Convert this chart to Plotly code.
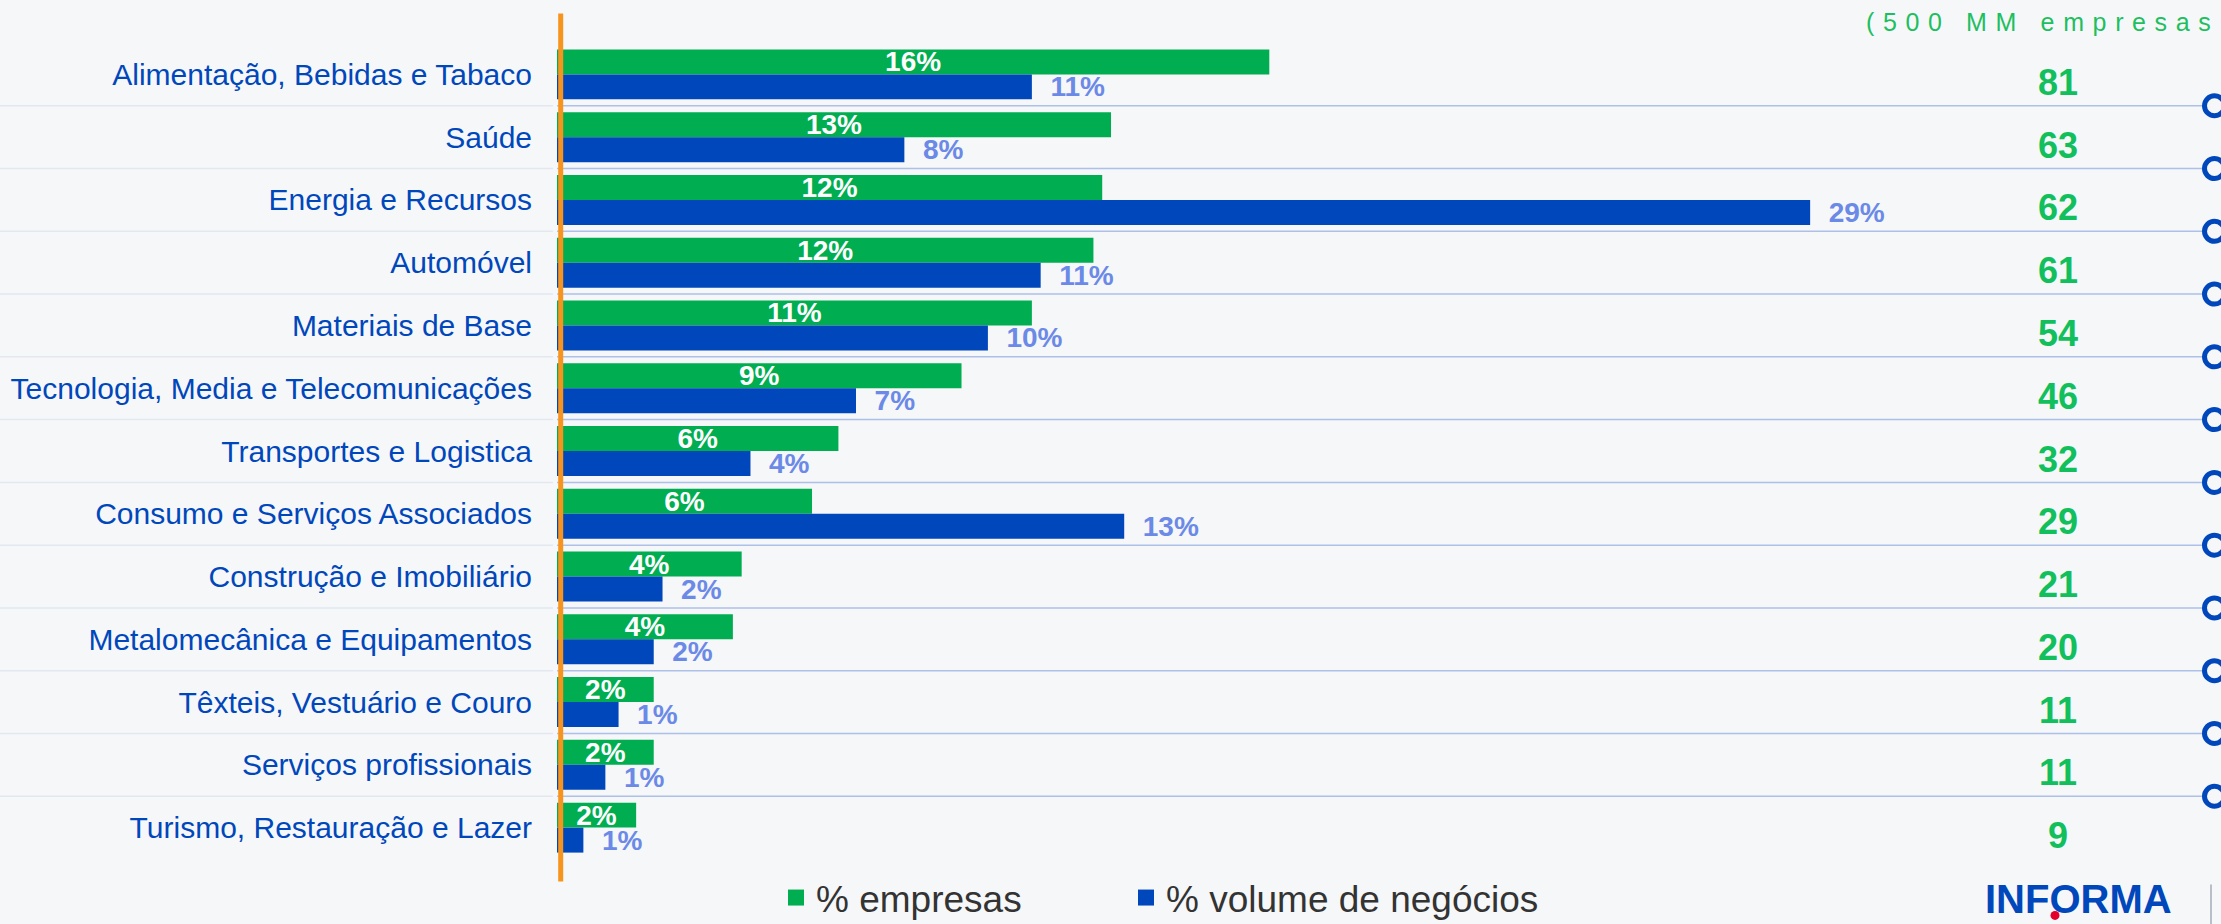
import plotly.graph_objects as go

# ---------------- data ----------------
categories = [
    "Alimentação, Bebidas e Tabaco",
    "Saúde",
    "Energia e Recursos",
    "Automóvel",
    "Materiais de Base",
    "Tecnologia, Media e Telecomunicações",
    "Transportes e Logistica",
    "Consumo e Serviços Associados",
    "Construção e Imobiliário",
    "Metalomecânica e Equipamentos",
    "Têxteis, Vestuário e Couro",
    "Serviços profissionais",
    "Turismo, Restauração e Lazer",
]
pct_empresas = [16.2, 12.6, 12.4, 12.2, 10.8, 9.2, 6.4, 5.8, 4.2, 4.0, 2.2, 2.2, 1.8]
pct_volume = [10.8, 7.9, 28.5, 11.0, 9.8, 6.8, 4.4, 12.9, 2.4, 2.2, 1.4, 1.1, 0.6]
n_empresas = [81, 63, 62, 61, 54, 46, 32, 29, 21, 20, 11, 11, 9]
series_names = ["% empresas", "% volume de negócios"]
header_text = "(500 MM empresas"
logo_text = "INFORMA"

# ---------------- style / geometry ----------------
W, H = 2221, 924
L, R, T, B = 557, 0, 42.6, 65.4
PW, PH = W - L - R, H - T - B
PX_PER_UNIT = 43.97
BG = "#f6f7f9"
GREEN = "#00ad50"
BLUE = "#0047bb"
LBL_BLUE = "#6b89e6"
NUM_GREEN = "#12bf5d"
FONT = "Liberation Sans, Arial, sans-serif"


def px2x(px):
    return (px - L) / PW


def py2y(py):
    return (H - B - py) / PH


fig = go.Figure()

fig.add_trace(go.Bar(
    y=categories, x=pct_empresas, orientation="h", name=series_names[0],
    marker=dict(color=GREEN, line=dict(width=0)),
    texttemplate="%{x:.0f}%", textposition="inside", insidetextanchor="middle",
    textangle=0, constraintext="none",
    insidetextfont=dict(color="white", size=28, family=FONT, weight="bold"),
    showlegend=False, hoverinfo="skip",
))
fig.add_trace(go.Bar(
    y=categories, x=pct_volume, orientation="h", name=series_names[1],
    marker=dict(color=BLUE, line=dict(width=0)),
    texttemplate="\u00a0\u00a0%{x:.0f}%", textposition="outside",
    textangle=0, constraintext="none", cliponaxis=False,
    outsidetextfont=dict(color=LBL_BLUE, size=28, family=FONT, weight="bold"),
    showlegend=False, hoverinfo="skip",
))

# legend entries
for name, col, lw in zip(series_names, [GREEN, BLUE], [305, 420]):
    fig.add_trace(go.Scatter(
        x=[None], y=[None], mode="markers", name=name, legendwidth=lw,
        marker=dict(symbol="square", size=18, color=col),
        showlegend=True, hoverinfo="skip",
    ))

shapes = []
n = len(categories)
for i in range(n - 1):
    yb = i + 0.5
    shapes.append(dict(type="line", xref="paper", yref="y", x0=px2x(0), x1=px2x(553),
                       y0=yb, y1=yb, line=dict(color="#e2e7f0", width=1.5), layer="below"))
    shapes.append(dict(type="line", xref="paper", yref="y", x0=px2x(557), x1=px2x(2206),
                       y0=yb, y1=yb, line=dict(color="#adc0e8", width=1.5), layer="below"))
    shapes.append(dict(type="circle", xref="paper", yref="y", xsizemode="pixel", ysizemode="pixel",
                       xanchor=px2x(2214.5), yanchor=yb, x0=-10, x1=10, y0=-10, y1=10,
                       line=dict(color=BLUE, width=5), fillcolor=BG, layer="above"))

# orange axis line
shapes.append(dict(type="line", xref="paper", yref="paper", x0=px2x(560.7), x1=px2x(560.7),
                   y0=py2y(13), y1=py2y(881), line=dict(color="#f7941d", width=5), layer="above"))
# logo decorations
shapes.append(dict(type="line", xref="paper", yref="paper", x0=px2x(2211), x1=px2x(2211),
                   y0=py2y(884), y1=py2y(924), line=dict(color="#b9bec8", width=2)))

annotations = []
for i, v in enumerate(n_empresas):
    annotations.append(dict(
        x=px2x(2058), xref="paper", y=categories[i], yref="y", yshift=-8,
        text=f"<b>{v}</b>", showarrow=False, xanchor="center", yanchor="middle",
        font=dict(size=36, color=NUM_GREEN, family=FONT),
    ))

# letter-spaced header (invisible spacers between glyphs)
gap = '<span style="font-size:31px">\u00a0</span>'
spaced = (gap + gap + "\u00a0").join(gap.join(list(w)) for w in header_text.split(" "))
annotations.append(dict(
    x=px2x(1864), xref="paper", y=py2y(20), yref="paper", text=spaced, showarrow=False,
    xanchor="left", yanchor="middle", font=dict(size=25, color="#1dbf60", family=FONT),
))
annotations.append(dict(
    x=px2x(1983), xref="paper", y=py2y(923), yref="paper", text=f"<b>{logo_text}</b>",
    showarrow=False, xanchor="left", yanchor="bottom",
    font=dict(size=40, color=BLUE, family=FONT),
))

fig.update_layout(
    width=W, height=H,
    margin=dict(l=L, r=R, t=T, b=B, pad=0),
    paper_bgcolor=BG, plot_bgcolor=BG,
    barmode="group", bargap=0.204, bargroupgap=0,
    font=dict(family=FONT),
    xaxis=dict(range=[0, PW / PX_PER_UNIT], visible=False, showgrid=False, zeroline=False),
    yaxis=dict(type="category", range=[n - 0.5, -0.5], showgrid=False, zeroline=False,
               showline=False, ticks="", ticklabelstandoff=24,
               tickfont=dict(size=30, color=BLUE, family=FONT)),
    legend=dict(orientation="h", xref="container", yref="container", x=776 / W, y=26 / H,
                xanchor="left", yanchor="middle", entrywidthmode="pixels",
                font=dict(size=37, color="#333333", family=FONT), itemsizing="trace",
                bgcolor="rgba(0,0,0,0)", traceorder="normal"),
    shapes=shapes,
    annotations=annotations,
)

fig.add_shape(type="circle", xref="paper", yref="paper", xsizemode="pixel", ysizemode="pixel",
              xanchor=px2x(2055), yanchor=py2y(915), x0=-4.5, x1=4.5, y0=-4.5, y1=4.5,
              line=dict(width=0), fillcolor="#e4002b")

fig.write_html(
    "out.html",
    config={"displayModeBar": False},
    post_script="document.body.style.margin='0';document.body.style.overflow='hidden';",
)
